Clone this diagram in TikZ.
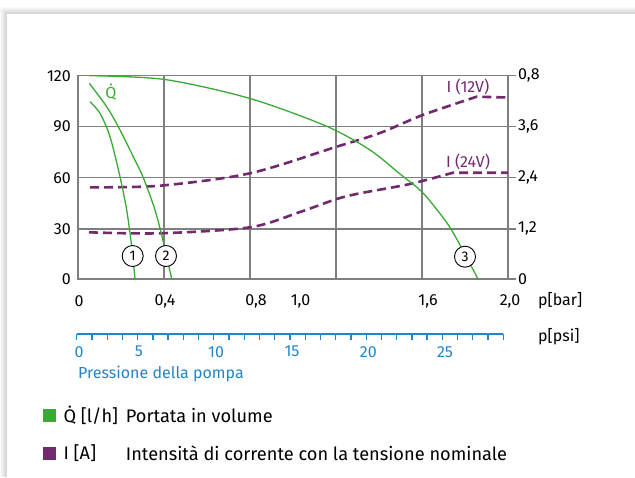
\documentclass[tikz,border=0pt]{standalone}
\usepackage{fontspec}
\setmainfont{Fira Sans}
\definecolor{qgreen}{HTML}{3AAA35}
\definecolor{ipurple}{HTML}{722A6E}
\definecolor{psiblue}{HTML}{2385C8}
\definecolor{gridgray}{HTML}{7F7F7F}
\begin{document}
\begin{tikzpicture}[x=1pt,y=-1pt,
  grid/.style={gridgray,line width=1.4pt},
  qcurve/.style={qgreen,line width=1.3pt},
  icurve/.style={ipurple,line width=2.6pt,dash pattern=on 9pt off 5pt},
  num/.style={inner sep=0pt,font=\fontsize{16}{18}\selectfont},
  curvemark/.style={draw,circle,fill=white,inner sep=0pt,minimum size=21pt,
    line width=0.9pt,font=\fontsize{14}{16}\selectfont},
  keybox/.style={minimum size=13pt,inner sep=0pt},
  keytext/.style={anchor=west,inner sep=0pt,font=\fontsize{18.2}{20}\selectfont}]
  \useasboundingbox (0,0) rectangle (635,477);
  % card with soft shadow
  \fill[white] (0,0) rectangle (635,477);
  \foreach \s in {1,...,7}
    \fill[black,opacity=0.025] (7-\s,14-\s) rectangle (635,477);
  \fill[white] (7,14) rectangle (635,477);
  % grid
  \foreach \y in {126.7,177.7,228.8}
    \draw[grid] (78,\y) -- (508,\y);
  \foreach \x in {164,250,336,422}
    \draw[grid] (\x,75.7) -- (\x,279);
  \draw[grid] (78,75.7) rectangle (508,279);
  % left scale
  \foreach \v/\y in {120/75.7,90/126.7,60/177.7,30/228.8,0/279}
    \node[num,anchor=east] (q\v) at (71,\y) {\v};
  % right scale
  \foreach \v/\n/\y in {{0,8}/a/75.7,{3,6}/b/126.7,{2,4}/c/177.7,{1,2}/d/228.8,0/e/279} {
    \draw[grid] (508,\y) -- (516,\y);
    \node[num,anchor=west] (i\n) at (518,\y) {\v};
  }
  % bar scale
  \foreach \v/\n/\x in {0/a/79,{0,4}/b/165,{0,8}/c/256,{1,0}/d/300.5,{1,6}/e/428,{2,0}/f/510}
    \node[num] (bar\n) at (\x,301) {\v};
  \node[num,anchor=west] (barunit) at (538,301) {p[bar]};
  % psi scale
  \draw[psiblue,line width=1.5pt] (76.7,334) -- (503.3,334);
  \foreach \i in {0,...,28}
    \draw[psiblue,line width=1.3pt] (76.7+\i*15.236,334) -- ++(0,6);
  \foreach \v/\x in {0/79,5/139,10/216,15/292,20/368.3,25/445}
    \node[num,psiblue] (psi\v) at (\x,351.7) {\v};
  \node[num,anchor=west] (psiunit) at (538,336.7) {p[psi]};
  \node[num,psiblue,anchor=west] (psilabel) at (78,374.3) {Pressione della pompa};
  % current curves
  \draw[icurve] plot[smooth] coordinates {(90,187.3) (160,185.7) (250,173.3)
    (336.7,146.7) (380,133) (422.7,115) (476.7,96.7)} -- (508,97.5);
  \draw[icurve] plot[smooth] coordinates {(89,232.3) (160,233.3) (250,227.3)
    (300,212) (336.7,199) (360,193.3) (410,184) (453,172.7)} -- (508,172.7);
  \node[num,ipurple] (i12) at (468,86.7) {I (12V)};
  \node[num,ipurple] (i24) at (468,161.7) {I (24V)};
  % flow curves
  \draw[qcurve] plot[smooth] coordinates {(90,101.7) (100,113.3) (110,136.7)
    (120,176.7) (126.7,210) (131.7,246.7) (135,279)};
  \draw[qcurve] plot[smooth] coordinates {(89.3,83.3) (106.7,106.7) (118.3,126.7)
    (133.3,156.7) (143.3,177.7) (155,210) (163.3,241.7) (171.7,279)};
  \draw[qcurve] plot[smooth] coordinates {(89,75.7) (165,79.5) (250,98.5)
    (326,126) (370,150) (400,174) (423,193) (447,223) (460,245) (478,279)};
  \node[num,qgreen] (qdot) at (111,92) {\.{Q}};
  \node[curvemark] (c1) at (132.7,256) {1};
  \node[curvemark] (c2) at (166,256) {2};
  \node[curvemark] (c3) at (465,256.7) {3};
  % legend
  \node[keybox,fill=qgreen] (qkey) at (49,415.5) {};
  \node[keytext] (qsym) at (63.3,415.5) {\.{Q} [l/h]};
  \node[keytext] (qtext) at (125.7,415.5) {Portata in volume};
  \node[keybox,fill=ipurple] (ikey) at (49,453.3) {};
  \node[keytext] (isym) at (63.3,453.3) {I [A]};
  \node[keytext] (itext) at (125.7,453.3) {Intensità di corrente con la tensione nominale};
\end{tikzpicture}
\end{document}
